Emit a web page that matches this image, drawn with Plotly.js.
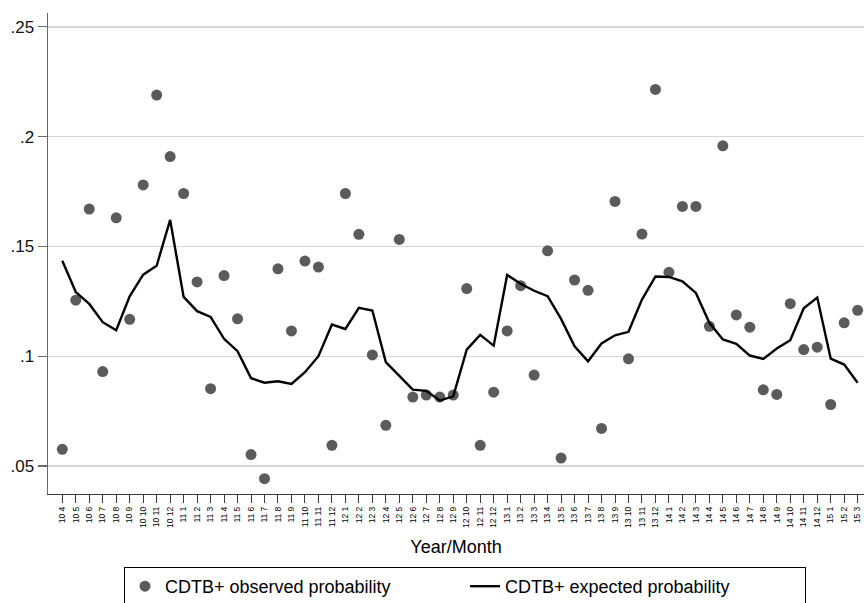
<!DOCTYPE html>
<html>
<head>
<meta charset="utf-8">
<script src="https://cdn.plot.ly/plotly-3.0.1.min.js"></script>
<style>html,body{margin:0;padding:0;background:#fff;}#chart{width:864px;height:603px;}</style>
</head>
<body>
<div id="chart"></div>
<script>
// Year/Month categories (April 2010 - March 2015)
var months = ["10 4","10 5","10 6","10 7","10 8","10 9","10 10","10 11","10 12",
  "11 1","11 2","11 3","11 4","11 5","11 6","11 7","11 8","11 9","11 10","11 11","11 12",
  "12 1","12 2","12 3","12 4","12 5","12 6","12 7","12 8","12 9","12 10","12 11","12 12",
  "13 1","13 2","13 3","13 4","13 5","13 6","13 7","13 8","13 9","13 10","13 11","13 12",
  "14 1","14 2","14 3","14 4","14 5","14 6","14 7","14 8","14 9","14 10","14 11","14 12",
  "15 1","15 2","15 3"];

var observed = [0.0576, 0.1255, 0.167, 0.093, 0.163, 0.1168, 0.178, 0.2189, 0.1909, 0.1741,
  0.1338, 0.0852, 0.1367, 0.1170, 0.0552, 0.0442, 0.1398, 0.1115, 0.1433, 0.1406,
  0.0594, 0.1741, 0.1555, 0.1006, 0.0685, 0.1532, 0.0814, 0.0823, 0.0814, 0.0823,
  0.1308, 0.0594, 0.0836, 0.1115, 0.1321, 0.0914, 0.148, 0.0536, 0.1347, 0.130,
  0.0671, 0.1705, 0.0988, 0.1556, 0.2215, 0.1382, 0.1682, 0.1682, 0.1136, 0.1958,
  0.1188, 0.1132, 0.0847, 0.0826, 0.1239, 0.1030, 0.1041, 0.0780, 0.1152, 0.1209];

var expected = [0.1435, 0.1292, 0.1238, 0.1155, 0.1118, 0.1273, 0.1371, 0.1412, 0.1621, 0.1270,
  0.1205, 0.1179, 0.1079, 0.1023, 0.0900, 0.0879, 0.0886, 0.0874, 0.0927, 0.1000,
  0.1144, 0.1124, 0.1220, 0.1208, 0.0973, 0.0909, 0.0848, 0.0842, 0.0798, 0.0817,
  0.1030, 0.1097, 0.1048, 0.1370, 0.1330, 0.1298, 0.1273, 0.1170, 0.1045, 0.0977,
  0.1058, 0.1095, 0.1111, 0.1258, 0.1363, 0.1361, 0.1341, 0.1288, 0.1152, 0.1076,
  0.1056, 0.1003, 0.0988, 0.1035, 0.1073, 0.1218, 0.1267, 0.0989, 0.0962, 0.0879];

var yTickVals = [0.05, 0.1, 0.15, 0.2, 0.25];
var yTickText = [".05", ".1", ".15", ".2", ".25"];

var FONT = "Liberation Sans, Arial, Helvetica, sans-serif";

var traces = [
  {
    type: "scatter", mode: "markers", name: "CDTB+ observed probability",
    x: months, y: observed,
    marker: {color: "#5b5b5b", size: 11, line: {width: 0}},
    cliponaxis: false
  },
  {
    type: "scatter", mode: "lines", name: "CDTB+ expected probability",
    x: months, y: expected,
    line: {color: "#000000", width: 2.4}
  }
];

var layout = {
  width: 864, height: 603,
  margin: {l: 48, r: 0, t: 13, b: 109, autoexpand: false},
  paper_bgcolor: "#ffffff", plot_bgcolor: "#ffffff",
  font: {family: FONT, color: "#000000", size: 17},
  showlegend: true,
  xaxis: {
    type: "category",
    categoryorder: "array", categoryarray: months,
    range: [-1.06, 59.47],
    showgrid: false, zeroline: false,
    showline: true, linecolor: "#3c3c3c", linewidth: 1.3,
    ticks: "outside", ticklen: 8, tickwidth: 1, tickcolor: "#3c3c3c",
    tickangle: -90, tickfont: {family: FONT, size: 8.5, color: "#000"},
    automargin: false,
    title: {text: "Year/Month", font: {family: FONT, size: 18, color: "#000"}, standoff: 13}
  },
  yaxis: {
    range: [0.03724, 0.2563],
    tickmode: "array", tickvals: yTickVals, ticktext: yTickText,
    showgrid: true, gridcolor: "#d6d6d6", gridwidth: 1.4,
    zeroline: false,
    showline: true, linecolor: "#6a6a6a", linewidth: 1.4,
    ticks: "outside", ticklen: 9, tickwidth: 1.2, tickcolor: "#6a6a6a",
    tickfont: {family: FONT, size: 17, color: "#111"},
    automargin: false
  },
  legend: {
    orientation: "h",
    xref: "paper", yref: "paper",
    x: (124 - 48) / 816, xanchor: "left",
    y: (494 - 567) / 481, yanchor: "top",
    bordercolor: "#000000", borderwidth: 1,
    bgcolor: "#ffffff",
    font: {family: FONT, size: 18, color: "#000"},
    entrywidth: 295
  }
};

Plotly.newPlot("chart", traces, layout, {displayModeBar: false, staticPlot: true});
</script>
</body>
</html>
